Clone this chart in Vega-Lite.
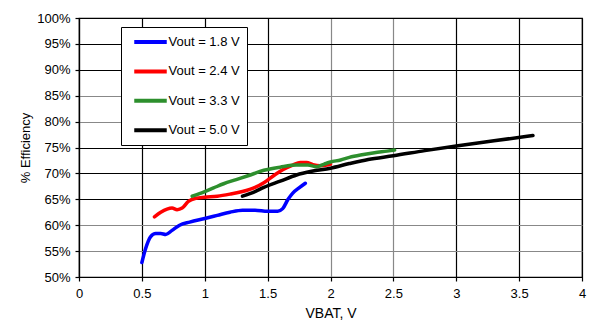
{
  "$schema": "https://vega.github.io/schema/vega-lite/v6.json",
  "width": 503,
  "height": 259,
  "autosize": {"type": "none"},
  "padding": {"left": 79, "top": 18, "right": 12, "bottom": 49},
  "background": "white",
  "config": {
    "font": "Liberation Sans",
    "view": {"stroke": "black", "strokeWidth": 1.2},
    "axis": {"labelFont": "Liberation Sans", "titleFont": "Liberation Sans", "labelColor": "black", "titleColor": "black", "titleFontWeight": "normal", "labelFontSize": 13, "titleFontSize": 13, "domainColor": "black", "tickColor": "black", "domainWidth": 1.2, "tickWidth": 1.2, "gridWidth": 1.2}
  },
  "data": {"values": [
    {"v": 0.50, "e": 52.8, "s": "Vout = 1.8 V"},
    {"v": 0.53, "e": 55.5, "s": "Vout = 1.8 V"},
    {"v": 0.57, "e": 57.8, "s": "Vout = 1.8 V"},
    {"v": 0.61, "e": 58.4, "s": "Vout = 1.8 V"},
    {"v": 0.65, "e": 58.4, "s": "Vout = 1.8 V"},
    {"v": 0.69, "e": 58.2, "s": "Vout = 1.8 V"},
    {"v": 0.74, "e": 59.0, "s": "Vout = 1.8 V"},
    {"v": 0.80, "e": 60.0, "s": "Vout = 1.8 V"},
    {"v": 0.88, "e": 60.6, "s": "Vout = 1.8 V"},
    {"v": 1.00, "e": 61.3, "s": "Vout = 1.8 V"},
    {"v": 1.10, "e": 61.9, "s": "Vout = 1.8 V"},
    {"v": 1.20, "e": 62.5, "s": "Vout = 1.8 V"},
    {"v": 1.30, "e": 62.9, "s": "Vout = 1.8 V"},
    {"v": 1.40, "e": 62.9, "s": "Vout = 1.8 V"},
    {"v": 1.50, "e": 62.7, "s": "Vout = 1.8 V"},
    {"v": 1.58, "e": 62.7, "s": "Vout = 1.8 V"},
    {"v": 1.62, "e": 63.2, "s": "Vout = 1.8 V"},
    {"v": 1.66, "e": 64.9, "s": "Vout = 1.8 V"},
    {"v": 1.70, "e": 66.2, "s": "Vout = 1.8 V"},
    {"v": 1.75, "e": 67.2, "s": "Vout = 1.8 V"},
    {"v": 1.80, "e": 68.1, "s": "Vout = 1.8 V"},
    {"v": 0.60, "e": 61.6, "s": "Vout = 2.4 V"},
    {"v": 0.65, "e": 62.5, "s": "Vout = 2.4 V"},
    {"v": 0.70, "e": 63.1, "s": "Vout = 2.4 V"},
    {"v": 0.74, "e": 63.3, "s": "Vout = 2.4 V"},
    {"v": 0.78, "e": 63.0, "s": "Vout = 2.4 V"},
    {"v": 0.82, "e": 63.3, "s": "Vout = 2.4 V"},
    {"v": 0.87, "e": 64.6, "s": "Vout = 2.4 V"},
    {"v": 0.93, "e": 65.2, "s": "Vout = 2.4 V"},
    {"v": 1.00, "e": 65.4, "s": "Vout = 2.4 V"},
    {"v": 1.10, "e": 65.6, "s": "Vout = 2.4 V"},
    {"v": 1.20, "e": 66.0, "s": "Vout = 2.4 V"},
    {"v": 1.30, "e": 66.5, "s": "Vout = 2.4 V"},
    {"v": 1.40, "e": 67.3, "s": "Vout = 2.4 V"},
    {"v": 1.47, "e": 68.2, "s": "Vout = 2.4 V"},
    {"v": 1.55, "e": 69.6, "s": "Vout = 2.4 V"},
    {"v": 1.62, "e": 70.7, "s": "Vout = 2.4 V"},
    {"v": 1.70, "e": 71.6, "s": "Vout = 2.4 V"},
    {"v": 1.76, "e": 72.1, "s": "Vout = 2.4 V"},
    {"v": 1.81, "e": 72.1, "s": "Vout = 2.4 V"},
    {"v": 1.86, "e": 71.7, "s": "Vout = 2.4 V"},
    {"v": 1.92, "e": 71.5, "s": "Vout = 2.4 V"},
    {"v": 1.97, "e": 71.6, "s": "Vout = 2.4 V"},
    {"v": 2.00, "e": 71.8, "s": "Vout = 2.4 V"},
    {"v": 0.90, "e": 65.6, "s": "Vout = 3.3 V"},
    {"v": 1.00, "e": 66.5, "s": "Vout = 3.3 V"},
    {"v": 1.07, "e": 67.2, "s": "Vout = 3.3 V"},
    {"v": 1.15, "e": 68.0, "s": "Vout = 3.3 V"},
    {"v": 1.25, "e": 68.8, "s": "Vout = 3.3 V"},
    {"v": 1.35, "e": 69.6, "s": "Vout = 3.3 V"},
    {"v": 1.47, "e": 70.6, "s": "Vout = 3.3 V"},
    {"v": 1.60, "e": 71.2, "s": "Vout = 3.3 V"},
    {"v": 1.73, "e": 71.6, "s": "Vout = 3.3 V"},
    {"v": 1.82, "e": 71.6, "s": "Vout = 3.3 V"},
    {"v": 1.89, "e": 71.3, "s": "Vout = 3.3 V"},
    {"v": 1.95, "e": 71.8, "s": "Vout = 3.3 V"},
    {"v": 2.00, "e": 72.2, "s": "Vout = 3.3 V"},
    {"v": 2.08, "e": 72.6, "s": "Vout = 3.3 V"},
    {"v": 2.15, "e": 73.1, "s": "Vout = 3.3 V"},
    {"v": 2.25, "e": 73.6, "s": "Vout = 3.3 V"},
    {"v": 2.35, "e": 74.0, "s": "Vout = 3.3 V"},
    {"v": 2.45, "e": 74.3, "s": "Vout = 3.3 V"},
    {"v": 2.51, "e": 74.5, "s": "Vout = 3.3 V"},
    {"v": 1.30, "e": 65.6, "s": "Vout = 5.0 V"},
    {"v": 1.40, "e": 66.5, "s": "Vout = 5.0 V"},
    {"v": 1.47, "e": 67.3, "s": "Vout = 5.0 V"},
    {"v": 1.60, "e": 68.5, "s": "Vout = 5.0 V"},
    {"v": 1.73, "e": 69.7, "s": "Vout = 5.0 V"},
    {"v": 1.85, "e": 70.4, "s": "Vout = 5.0 V"},
    {"v": 2.00, "e": 71.0, "s": "Vout = 5.0 V"},
    {"v": 2.15, "e": 71.9, "s": "Vout = 5.0 V"},
    {"v": 2.30, "e": 72.7, "s": "Vout = 5.0 V"},
    {"v": 2.50, "e": 73.4, "s": "Vout = 5.0 V"},
    {"v": 2.75, "e": 74.4, "s": "Vout = 5.0 V"},
    {"v": 3.00, "e": 75.3, "s": "Vout = 5.0 V"},
    {"v": 3.30, "e": 76.3, "s": "Vout = 5.0 V"},
    {"v": 3.61, "e": 77.3, "s": "Vout = 5.0 V"}
  ]},
  "mark": {"type": "line", "strokeWidth": 3.5, "interpolate": "monotone", "strokeCap": "round"},
  "encoding": {
    "x": {
      "field": "v", "type": "quantitative",
      "scale": {"domain": [0, 4], "nice": false, "zero": false},
      "axis": {
        "values": [0, 0.5, 1, 1.5, 2, 2.5, 3, 3.5, 4],
        "format": "~g",
        "title": "VBAT, V",
        "titleFontSize": 14,
        "titlePadding": 6,
        "tickSize": 4,
        "labelPadding": 6,
        "labelFlush": false,
        "gridColor": {"condition": {"test": "datum.value == 2 || datum.value == 2.5", "value": "#888888"}, "value": "black"}
      }
    },
    "y": {
      "field": "e", "type": "quantitative",
      "scale": {"domain": [50, 100], "nice": false, "zero": false},
      "axis": {
        "values": [50, 55, 60, 65, 70, 75, 80, 85, 90, 95, 100],
        "labelExpr": "datum.value + '%'",
        "title": "% Efficiency",
        "titlePadding": 4,
        "tickSize": 4,
        "labelPadding": 5,
        "labelFlush": false,
        "gridColor": {"condition": {"test": "datum.value == 55 || datum.value == 60 || datum.value == 80 || datum.value == 85", "value": "#888888"}, "value": "black"}
      }
    },
    "color": {
      "field": "s", "type": "nominal",
      "scale": {"domain": ["Vout = 1.8 V", "Vout = 2.4 V", "Vout = 3.3 V", "Vout = 5.0 V"], "range": ["#0000ff", "#ff0000", "#2d8f2d", "#000000"]},
      "legend": {
        "title": null,
        "orient": "none",
        "legendX": 42,
        "legendY": 9,
        "fillColor": "white",
        "strokeColor": "black",
        "padding": 6.5,
        "symbolType": "M-2.5,0H2.5",
        "symbolStrokeWidth": 4,
        "symbolSize": 169,
        "symbolOffset": 14.5,
        "labelFont": "Liberation Sans",
        "labelFontSize": 13,
        "labelColor": "black",
        "labelOffset": 9.5,
        "labelExpr": "datum.label + '\u00a0\u00a0\u00a0\u00a0\u00a0\u00a0'",
        "rowPadding": 12.4
      }
    }
  }
}
